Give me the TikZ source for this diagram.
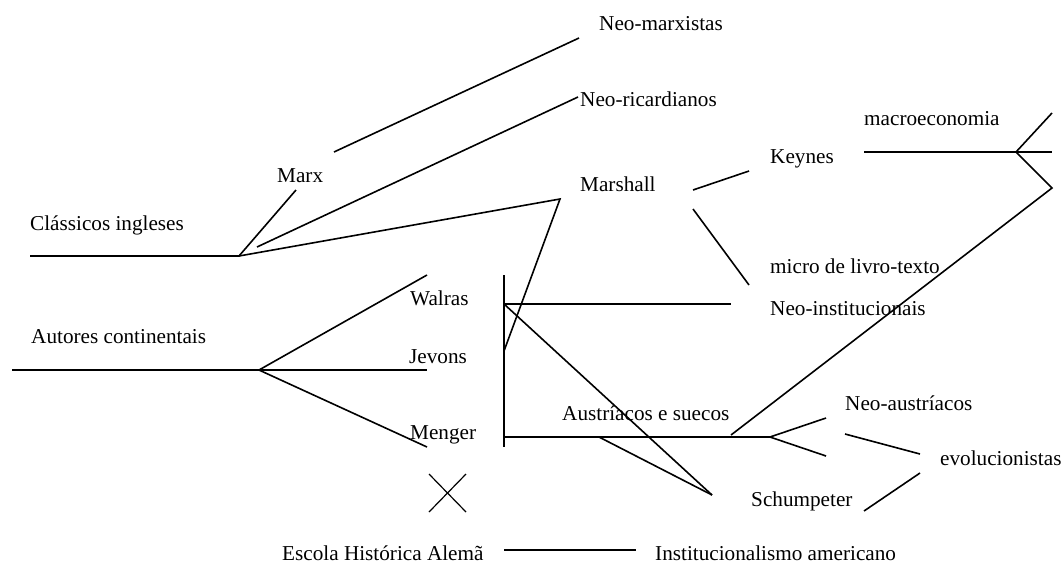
\documentclass[tikz,border=0pt]{standalone}
\usepackage{fontspec}
\setmainfont{Liberation Serif}
\begin{document}
\begin{tikzpicture}[x=1pt,y=-1pt,
  ln/.style={line width=1.6pt, line cap=butt, line join=miter},
  lbl/.style={anchor=base west, inner sep=0pt, font=\fontsize{21.2}{25}\selectfont}]
\useasboundingbox (0,0) rectangle (1064,563);
% labels
\node[lbl] (cla) at (30,230) {Clássicos ingleses};
\node[lbl] (marx) at (277,182) {Marx};
\node[lbl] (nm) at (599,30) {Neo-marxistas};
\node[lbl] (nr) at (580,106) {Neo-ricardianos};
\node[lbl] (macro) at (864,125) {macroeconomia};
\node[lbl] (key) at (770,163) {Keynes};
\node[lbl] (mar) at (580,191) {Marshall};
\node[lbl] (micro) at (770,273) {micro de livro-texto};
\node[lbl] (wal) at (410,305) {Walras};
\node[lbl] (aut) at (31,343) {Autores continentais};
\node[lbl] (jev) at (409,363) {Jevons};
\node[lbl] (men) at (410,439) {Menger};
\node[lbl] (ni) at (770,315) {Neo-institucionais};
\node[lbl] (aus) at (562,420) {Austríacos e suecos};
\node[lbl] (na) at (845,410) {Neo-austríacos};
\node[lbl] (evo) at (940,465) {evolucionistas};
\node[lbl] (sch) at (751,506) {Schumpeter};
\node[lbl] (esc) at (282,560) {Escola Histórica Alemã};
\node[lbl] (ins) at (655,560) {Institucionalismo americano};
% coordinates
\coordinate (c1) at (30,256);
\coordinate (cj) at (239,256);
\coordinate (mxe) at (296,190);
\coordinate (nr1) at (257,247);
\coordinate (nr2) at (578,97);
\coordinate (nm1) at (334,152);
\coordinate (nm2) at (579,38);
\coordinate (ms) at (560,199);
\coordinate (jv) at (504,351);
\coordinate (vt) at (504,275);
\coordinate (vb) at (504,447);
\coordinate (afl) at (12,370);
\coordinate (af) at (259,370);
\coordinate (wu) at (427,275);
\coordinate (wm) at (427,370);
\coordinate (wd) at (427,447);
\coordinate (x1) at (429,474);
\coordinate (x2) at (466,512);
\coordinate (x3) at (466,474);
\coordinate (x4) at (429,512);
\coordinate (e1) at (504,550);
\coordinate (e2) at (636,550);
\coordinate (wl) at (504,304);
\coordinate (wr) at (731,304);
\coordinate (sc) at (712,495);
\coordinate (ml) at (504,437);
\coordinate (mr) at (770,437);
\coordinate (as) at (599,437);
\coordinate (fu) at (826,418);
\coordinate (fd) at (826,456);
\coordinate (ev1) at (845,434);
\coordinate (ev2) at (920,454);
\coordinate (ev3) at (864,511);
\coordinate (ev4) at (920,473);
\coordinate (ld) at (731,435);
\coordinate (rb) at (1052,188);
\coordinate (rm) at (1016,152);
\coordinate (rt) at (1052,113);
\coordinate (hl) at (864,152);
\coordinate (hr) at (1052,152);
\coordinate (k1) at (693,190);
\coordinate (k2) at (749,171);
\coordinate (m1) at (693,209);
\coordinate (m2) at (749,285);
% lines
\draw[ln] (c1) -- (cj) -- (mxe);
\draw[ln] (nr1) -- (nr2);
\draw[ln] (nm1) -- (nm2);
\draw[ln] (cj) -- (ms) -- (jv);
\draw[ln] (vt) -- (vb);
\draw[ln] (afl) -- (af) -- (wu);
\draw[ln] (af) -- (wm);
\draw[ln] (af) -- (wd);
\draw[ln, line width=1.2pt] (x1) -- (x2);
\draw[ln, line width=1.2pt] (x3) -- (x4);
\draw[ln] (e1) -- (e2);
\draw[ln] (wl) -- (wr);
\draw[ln] (wl) -- (sc);
\draw[ln] (ml) -- (mr);
\draw[ln] (as) -- (sc);
\draw[ln] (mr) -- (fu);
\draw[ln] (mr) -- (fd);
\draw[ln] (ev1) -- (ev2);
\draw[ln] (ev3) -- (ev4);
\draw[ln] (ld) -- (rb) -- (rm) -- (rt);
\draw[ln] (hl) -- (hr);
\draw[ln] (k1) -- (k2);
\draw[ln] (m1) -- (m2);
\end{tikzpicture}
\end{document}
